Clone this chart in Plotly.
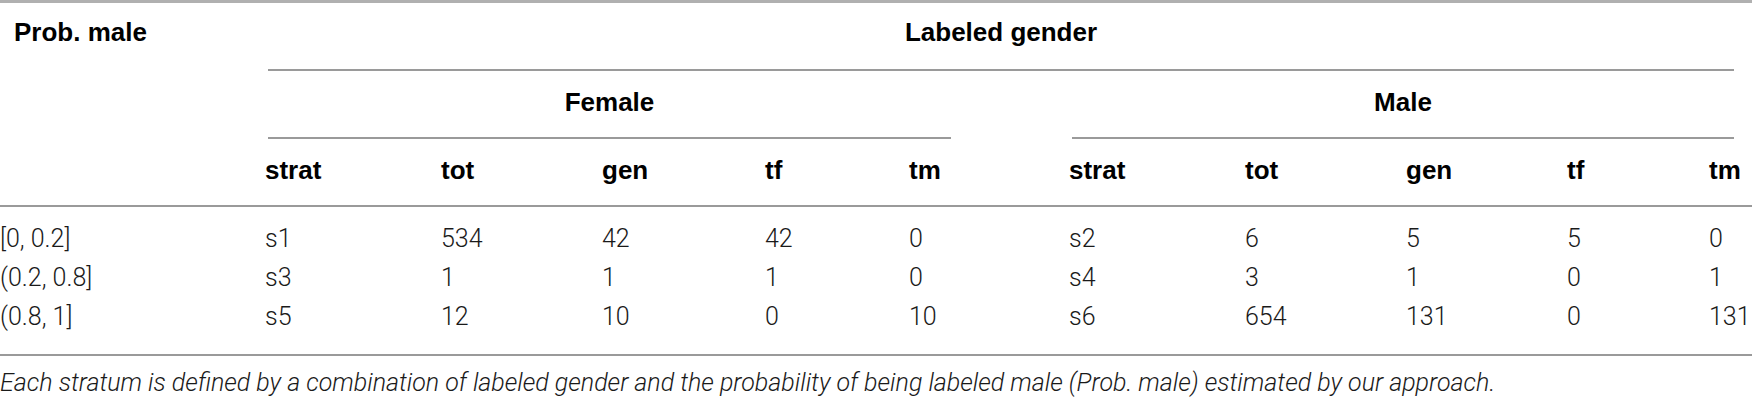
import plotly.graph_objects as go

# ---------------- data ----------------
prob_bins = ["[0, 0.2]", "(0.2, 0.8]", "(0.8, 1]"]
sub_headers = ["strat", "tot", "gen", "tf", "tm"]

female_strat = ["s1", "s3", "s5"]
female_tot = [534, 1, 12]
female_gen = [42, 1, 10]
female_tf = [42, 1, 0]
female_tm = [0, 0, 10]

male_strat = ["s2", "s4", "s6"]
male_tot = [6, 3, 654]
male_gen = [5, 1, 131]
male_tf = [5, 0, 0]
male_tm = [0, 1, 131]

stub_header = "Prob. male"
group_header = "Labeled gender"
gender_groups = ["Female", "Male"]
caption = ("Each stratum is defined by a combination of labeled gender and the probability "
           "of being labeled male (Prob. male) estimated by our approach.")

# ---------------- layout constants ----------------
W, H = 1752, 402
OFF = 3  # text offset applied by plotly for textposition right
FEMALE_X = [268, 444, 605, 768, 912]
MALE_X = [1072, 1248, 1409, 1570, 1712]
ROW_Y = [241, 280, 319]
Y_TOP_HDR = 34
Y_GROUP = 104
Y_SUB = 172
Y_CAPTION = 385

FEMALE_LINE = (268, 951)
MALE_LINE = (1072, 1734)
GROUP_LINE = (268, 1734)

LINE_COL = "#9a9a9a"

BODY = dict(family="Roboto, 'Liberation Sans', sans-serif", size=25, color="#1a1a1a", weight=300)
BOLD = dict(family="'Liberation Sans', Arial, sans-serif", size=26, color="#000000", weight="bold")
ITAL = dict(family="Roboto, 'Liberation Sans', sans-serif", size=25, color="#1a1a1a", weight=300, style="italic")

fig = go.Figure()


def add_text(xs, ys, texts, font, pos="middle right"):
    fig.add_trace(go.Scatter(
        x=xs, y=ys, text=[str(t) for t in texts], mode="text",
        textposition=pos, textfont=font, hoverinfo="skip",
        showlegend=False, cliponaxis=False))


# header texts
add_text([17 - OFF], [Y_TOP_HDR], [stub_header], BOLD)
add_text([(GROUP_LINE[0] + GROUP_LINE[1]) / 2], [Y_TOP_HDR], [group_header], BOLD, "middle center")
add_text([(FEMALE_LINE[0] + FEMALE_LINE[1]) / 2, (MALE_LINE[0] + MALE_LINE[1]) / 2],
         [Y_GROUP, Y_GROUP], gender_groups, BOLD, "middle center")
add_text([x - OFF for x in FEMALE_X + MALE_X], [Y_SUB] * 10, sub_headers + sub_headers, BOLD)

# body columns
add_text([0] * 3, ROW_Y, prob_bins, BODY)
female_cols = [female_strat, female_tot, female_gen, female_tf, female_tm]
male_cols = [male_strat, male_tot, male_gen, male_tf, male_tm]
for x, vals in zip(FEMALE_X, female_cols):
    add_text([x - OFF] * 3, ROW_Y, vals, BODY)
for x, vals in zip(MALE_X, male_cols):
    add_text([x - OFF] * 3, ROW_Y, vals, BODY)

# caption
add_text([0], [Y_CAPTION], [caption], ITAL)

# rules
shapes = [
    dict(type="line", x0=0, x1=W, y0=1.5, y1=1.5, line=dict(color="#b0b0b0", width=3)),
    dict(type="line", x0=GROUP_LINE[0], x1=GROUP_LINE[1], y0=70, y1=70, line=dict(color=LINE_COL, width=2)),
    dict(type="line", x0=FEMALE_LINE[0], x1=FEMALE_LINE[1], y0=138, y1=138, line=dict(color=LINE_COL, width=2)),
    dict(type="line", x0=MALE_LINE[0], x1=MALE_LINE[1], y0=138, y1=138, line=dict(color=LINE_COL, width=2)),
    dict(type="line", x0=0, x1=W, y0=206, y1=206, line=dict(color=LINE_COL, width=2)),
    dict(type="line", x0=0, x1=W, y0=355, y1=355, line=dict(color=LINE_COL, width=2)),
]
for s in shapes:
    s.update(xref="x", yref="y", layer="above")

fig.update_layout(
    width=W, height=H,
    margin=dict(l=0, r=0, t=0, b=0),
    paper_bgcolor="white", plot_bgcolor="white",
    xaxis=dict(range=[0, W], visible=False, fixedrange=True),
    yaxis=dict(range=[H, 0], visible=False, fixedrange=True),
    shapes=shapes,
    showlegend=False,
)

fig.write_html(
    "out.html",
    config=dict(displayModeBar=False, staticPlot=True),
    post_script="document.body.style.margin='0';document.body.style.overflow='hidden';",
)
